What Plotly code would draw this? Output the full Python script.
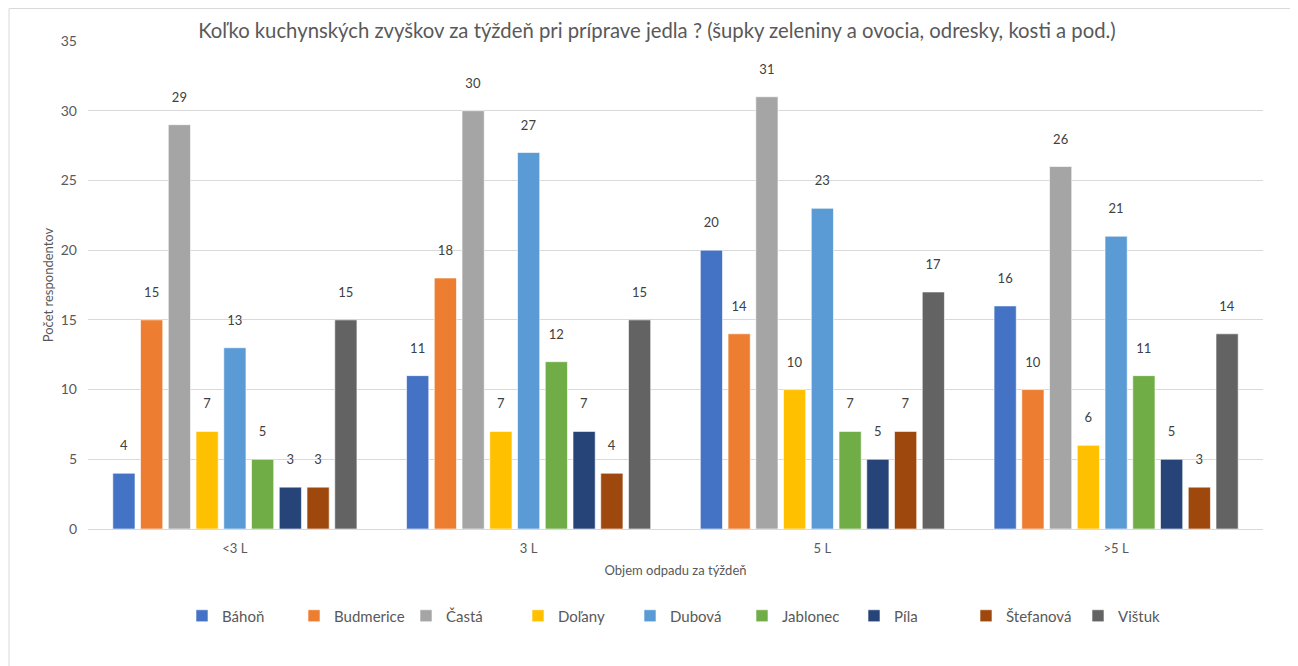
import plotly.graph_objects as go

categories = ["<3 L", "3 L", "5 L", ">5 L"]
series_names = ["Báhoň", "Budmerice", "Častá", "Doľany", "Dubová", "Jablonec", "Píla", "Štefanová", "Vištuk"]
bahon = [4, 11, 20, 16]
budmerice = [15, 18, 14, 10]
casta = [29, 30, 31, 26]
dolany = [7, 7, 10, 6]
dubova = [13, 27, 23, 21]
jablonec = [5, 12, 7, 11]
pila = [3, 7, 5, 5]
stefanova = [3, 4, 7, 3]
vistuk = [15, 15, 17, 14]
colors = ["#4472C4", "#ED7D31", "#A5A5A5", "#FFC000", "#5B9BD5", "#70AD47", "#264478", "#9E480E", "#636363"]

values = [bahon, budmerice, casta, dolany, dubova, jablonec, pila, stefanova, vistuk]
FONT = "Lato, 'Open Sans', sans-serif"

fig = go.Figure()
for name, vals, col in zip(series_names, values, colors):
    fig.add_trace(go.Bar(
        name=name, x=categories, y=vals,
        marker=dict(color=col, line=dict(color="rgba(255,255,255,0.6)", width=1)),
        text=[f"{v}<br>&nbsp;" for v in vals], textposition="outside", cliponaxis=False,
        textfont=dict(color="#404040", size=13, family=FONT),
        hovertemplate="%{x}: %{y}<extra>" + name + "</extra>",
    ))

# browser body margin offset of 8px
OFF = 8
W, H = 1298, 666
pw, ph = 1175, 488
l, t = 88 - OFF, 41 - OFF
r = W - l - pw
b = H - t - ph

def px(x):
    return (x - OFF - l) / pw

def py(y):
    return (H - b - (y - OFF)) / ph

fig.update_layout(
    width=W, height=H,
    margin=dict(l=l, r=r, t=t, b=b),
    paper_bgcolor="white", plot_bgcolor="white",
    barmode="group", bargap=0.15, bargroupgap=0.2,
    font=dict(family=FONT, color="#595959", size=13),
    title=dict(text="Koľko kuchynských zvyškov za týždeň pri príprave jedla ? (šupky zeleniny a ovocia, odresky, kosti a pod.)",
               x=0.5, xanchor="center", y=1 - (31 - OFF) / H, yanchor="middle",
               font=dict(size=20.3, color="#595959", family=FONT)),
    xaxis=dict(showgrid=False, showline=False, ticks="", tickfont=dict(size=13, color="#595959"),
               ticklabelstandoff=10,
               title=dict(text="Objem odpadu za týždeň", font=dict(size=13, color="#595959"), standoff=10)),
    yaxis=dict(range=[0, 35], dtick=5, showgrid=True, gridcolor="#D9D9D9", gridwidth=1,
               zeroline=True, zerolinecolor="#D9D9D9", zerolinewidth=1,
               showline=False, ticks="", tickfont=dict(size=14, color="#595959"), ticklabelstandoff=10,
               title=dict(text="Počet respondentov", font=dict(size=13, color="#595959"), standoff=4)),
    legend=dict(orientation="h", x=px(686), xanchor="center", y=py(616), yanchor="middle",
                font=dict(size=15, color="#595959"), entrywidth=67, entrywidthmode="pixels",
                itemwidth=30, traceorder="normal"),
    shapes=[dict(type="rect", xref="paper", yref="paper", x0=px(9), x1=px(1292), y0=py(672), y1=py(8.5),
                 line=dict(color="#D9D9D9", width=1), fillcolor="rgba(0,0,0,0)", layer="below")],
)

fig.write_html("out.html")
